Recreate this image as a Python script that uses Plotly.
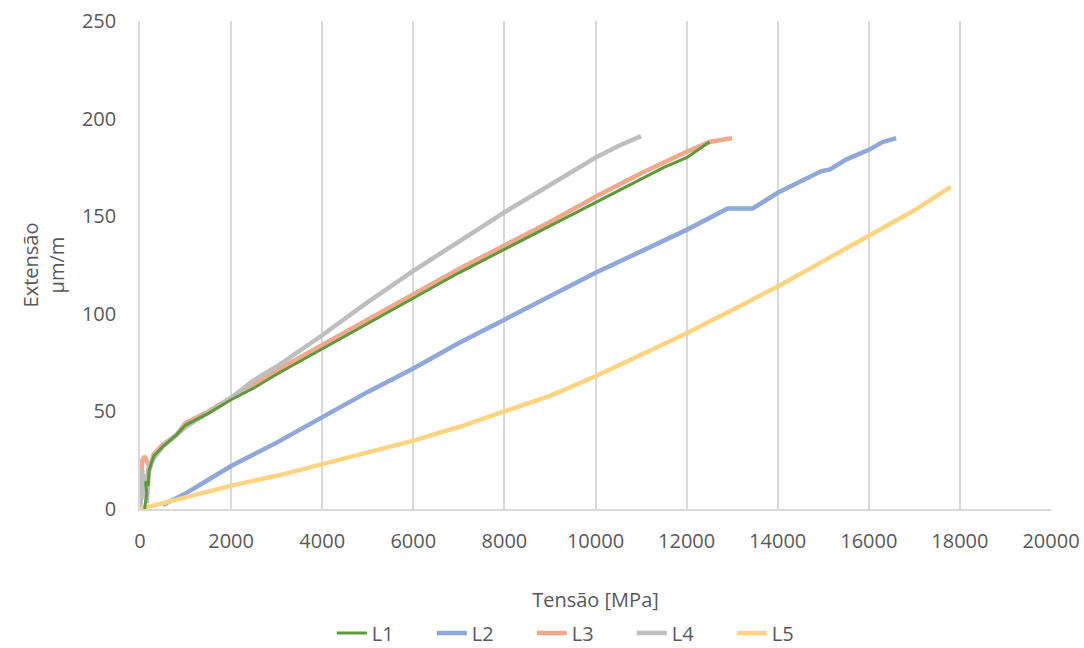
import plotly.graph_objects as go

# L1 (green)
l1_x = [100, 150, 120, 180, 200, 300, 500, 800, 1000, 1500, 2000, 2500, 3000, 4000, 5000, 6000, 7000, 8000, 9000, 10000, 11000, 11500, 12000, 12500]
l1_y = [0, 8, 14, 12, 20, 27, 32, 38, 43, 49, 56, 62, 69, 82, 95, 108, 121, 133, 145, 157, 169, 175, 180, 188]
# L2 (blue)
l2_x = [500, 1000, 1500, 2000, 3000, 4000, 5000, 6000, 7000, 8000, 9000, 10000, 11000, 12000, 12900, 13450, 14000, 14500, 14950, 15150, 15500, 16000, 16300, 16600]
l2_y = [2, 8, 15, 22, 34, 47, 60, 72, 85, 97, 109, 121, 132, 143, 154, 154, 162, 168, 173, 174, 179, 184, 188, 190]
# L3 (orange)
l3_x = [0, 50, 100, 200, 150, 300, 500, 800, 1000, 1500, 2000, 2500, 3000, 4000, 5000, 6000, 7000, 8000, 9000, 10000, 11000, 12000, 12500, 13000]
l3_y = [0, 25, 27, 22, 15, 28, 33, 38, 44, 50, 57, 64, 71, 84, 97, 110, 123, 135, 147, 160, 172, 183, 188, 190]
# L4 (gray)
l4_x = [0, 50, 30, 100, 150, 200, 300, 500, 1000, 2000, 2500, 3000, 4000, 5000, 6000, 7000, 8000, 9000, 10000, 10500, 11000]
l4_y = [0, 20, 5, 18, 3, 22, 26, 32, 42, 57, 66, 73, 89, 106, 122, 137, 152, 166, 180, 186, 191]
# L5 (yellow)
l5_x = [0, 500, 1000, 2000, 3000, 4000, 5000, 6000, 7000, 8000, 9000, 10000, 11000, 12000, 13000, 14000, 15000, 16000, 17000, 17800]
l5_y = [0, 3, 6, 12, 17, 23, 29, 35, 42, 50, 58, 68, 79, 90, 102, 114, 127, 140, 153, 165]

x_ticks = list(range(0, 20001, 2000))
x_labels = [str(v) for v in x_ticks]
y_ticks = [0, 50, 100, 150, 200, 250]

series = [
    ("L1", l1_x, l1_y, "#5E9A3C", 3),
    ("L2", l2_x, l2_y, "#8FA8DA", 4.5),
    ("L3", l3_x, l3_y, "#F2A88B", 4.5),
    ("L4", l4_x, l4_y, "#BEBEBE", 4.5),
    ("L5", l5_x, l5_y, "#FFD480", 4.5),
]

fig = go.Figure()
order = [1, 2, 3, 4, 0]
for i in order:
    name, xs, ys, col, w = series[i]
    fig.add_trace(go.Scatter(x=xs, y=ys, mode="lines", name=name,
                             line=dict(color=col, width=w), legendrank=i + 1))

font = "Open Sans, Liberation Sans, sans-serif"
fig.update_layout(
    width=1084, height=648,
    margin=dict(l=140, r=33, t=21, b=139, autoexpand=False),
    plot_bgcolor="white", paper_bgcolor="white",
    font=dict(family=font, size=20, color="#595959"),
    legend=dict(orientation="h", x=0.485, xanchor="center", y=0.023, yref="container",
                yanchor="middle",
                font=dict(size=20, color="#595959"), traceorder="normal",
                entrywidth=55, entrywidthmode="pixels"),
    xaxis=dict(range=[0, 20000], tickvals=x_ticks, ticktext=x_labels, showgrid=True,
               gridcolor="#D9D9D9", gridwidth=1.5, zeroline=False, showline=True,
               linecolor="#D9D9D9", linewidth=1.5, ticks="", ticklabelstandoff=13,
               automargin=False,
               title=dict(text="Tensão [MPa]", standoff=40,
                          font=dict(size=20, color="#595959"))),
    yaxis=dict(range=[0, 250], tickvals=y_ticks, showgrid=False, zeroline=False,
               showline=True, linecolor="#D9D9D9", linewidth=1.5, ticks="",
               ticklabelstandoff=18, automargin=False,
               title=dict(text="Extensão<br>µm/m", standoff=12,
                          font=dict(size=20, color="#595959"))),
)

fig.write_html("out.html")
